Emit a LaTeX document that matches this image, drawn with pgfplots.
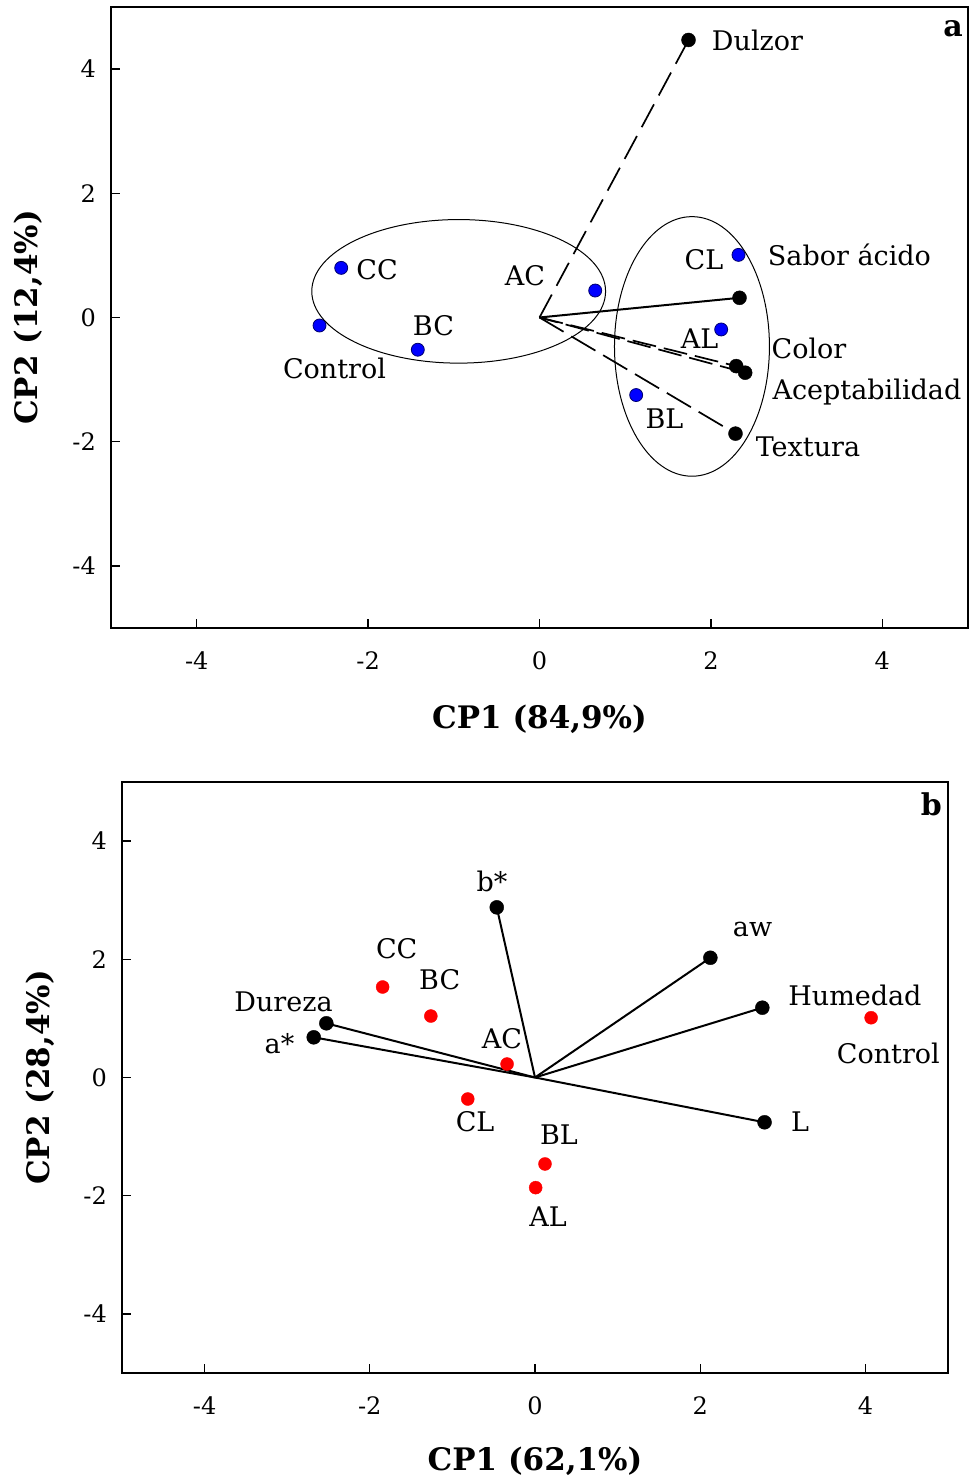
\documentclass[border=0pt]{standalone}
\usepackage{pgfplots}
\pgfplotsset{compat=1.18}
\usepackage{fontspec}
\setmainfont{DejaVu Serif}

\definecolor{ptblue}{RGB}{0,0,255}
\definecolor{ptedge}{RGB}{0,0,110}
\definecolor{ptred}{RGB}{255,0,0}

\tikzset{
  lbl/.style={font=\fontsize{27}{32}\selectfont, inner sep=0pt, text height=0.72em, text depth=0pt, anchor=center, yshift=-6pt},
}
\pgfplotsset{
  biplot/.style={
    scale only axis,
    xmin=-5,xmax=5,ymin=-5,ymax=5,
    xtick={-4,-2,0,2,4}, ytick={-4,-2,0,2,4},
    tick align=inside, xtick pos=left, ytick pos=left,
    major tick length=9pt,
    axis line style={line width=1.6pt},
    every tick/.style={black, line width=1.3pt},
    tick label style={font=\fontsize{24}{28}\selectfont},
    /pgf/number format/assume math mode=true,
    yticklabel style={inner sep=0pt, anchor=east, xshift=-15pt},
    xticklabel style={inner sep=0pt, anchor=center, yshift=-33pt},
    clip=false,
    label style={font=\fontsize{31}{36}\selectfont\bfseries},
  },
  vec/.style={black, line width=2pt, forget plot},
  dvec/.style={black, line width=1.7pt, forget plot},
}

\begin{document}
\begin{tikzpicture}
\useasboundingbox (0,0) rectangle (969pt,1481pt);

% ---------------- Panel a ----------------
\begin{axis}[biplot,
  at={(111pt,853pt)}, anchor=south west,
  width=857pt, height=621pt,
  xlabel={CP1 (84,9\%)},
  xlabel style={at={(axis description cs:0.5,-0.1465)}, anchor=center},
  ylabel={CP2 (12,4\%)},
  ylabel style={at={(axis description cs:-0.0968,0.5)}, anchor=center},
]
% vectors
\addplot[dvec, dash pattern=on 26pt off 10pt] coordinates {(0,0) (1.739,4.469)};
\addplot[vec] coordinates {(0,0) (2.334,0.317)};
\addplot[dvec, dash pattern=on 24pt off 8pt] coordinates {(0,0) (2.295,-0.783)};
\addplot[dvec, dash pattern=on 24pt off 8pt, dash phase=5pt] coordinates {(0,0) (2.400,-0.889)};
\addplot[dvec, dash pattern=on 28pt off 9pt] coordinates {(0,0) (2.287,-1.870)};
% variable points
\addplot[only marks, mark=*, mark size=7pt, black] coordinates {
  (1.739,4.469) (2.334,0.317) (2.295,-0.783) (2.400,-0.889) (2.287,-1.870)};
% sample points
\addplot[only marks, mark=*, mark size=6.5pt, mark options={fill=ptblue, draw=ptedge, line width=0.8pt}] coordinates {
  (-2.314,0.799) (-2.567,-0.129) (-1.420,-0.519) (0.650,0.434)
  (2.322,1.008) (2.120,-0.193) (1.128,-1.249)};
% ellipses
\draw[line width=1pt] (axis cs:-0.943,0.421) ellipse [x radius=1.714, y radius=1.156];
\draw[line width=1pt] (axis cs:1.779,-0.466) ellipse [x radius=0.904, y radius=2.090];
% labels
\node[lbl] at (axis cs:2.544,4.453) {Dulzor};
\node[lbl] at (axis cs:-1.896,0.772) {CC};
\node[lbl] at (axis cs:-0.169,0.675) {AC};
\node[lbl] at (axis cs:-1.237,-0.129) {BC};
\node[lbl] at (axis cs:-2.392,-0.820) {Control};
\node[lbl] at (axis cs:1.919,0.932) {CL};
\node[lbl] at (axis cs:3.617,0.990) {Sabor ácido};
\node[lbl] at (axis cs:1.867,-0.338) {AL};
\node[lbl] at (axis cs:3.145,-0.498) {Color};
\node[lbl] at (axis cs:3.821,-1.174) {Aceptabilidad};
\node[lbl] at (axis cs:1.459,-1.640) {BL};
\node[lbl] at (axis cs:3.133,-2.090) {Textura};
\node[font=\fontsize{30}{36}\selectfont\bfseries, inner sep=0pt] at (axis cs:4.825,4.646) {a};
\end{axis}

% ---------------- Panel b ----------------
\begin{axis}[biplot,
  at={(122pt,108pt)}, anchor=south west,
  width=826pt, height=591pt,
  xlabel={CP1 (62,1\%)},
  xlabel style={at={(axis description cs:0.5,-0.1489)}, anchor=center},
  ylabel={CP2 (28,4\%)},
  ylabel style={at={(axis description cs:-0.0993,0.5)}, anchor=center},
]
% vectors
\addplot[vec] coordinates {(0,0) (-0.463,2.879)};
\addplot[vec] coordinates {(0,0) (2.123,2.026)};
\addplot[vec] coordinates {(0,0) (2.752,1.181)};
\addplot[vec] coordinates {(0,0) (2.779,-0.758)};
\addplot[vec] coordinates {(0,0) (-2.526,0.917)};
\addplot[vec] coordinates {(0,0) (-2.679,0.680)};
% variable points
\addplot[only marks, mark=*, mark size=7pt, black] coordinates {
  (-0.463,2.879) (2.123,2.026) (2.752,1.181) (2.779,-0.758) (-2.526,0.917) (-2.679,0.680)};
% sample points
\addplot[only marks, mark=*, mark size=6.5pt, mark options={fill=ptred, draw=ptred}] coordinates {
  (-1.845,1.531) (-1.261,1.040) (-0.338,0.228) (-0.814,-0.364)
  (0.121,-1.463) (0.008,-1.864) (4.069,1.011)};
% labels
\node[lbl] at (axis cs:-0.520,3.307) {b*};
\node[lbl] at (axis cs:-1.674,2.173) {CC};
\node[lbl] at (axis cs:-1.154,1.649) {BC};
\node[lbl] at (axis cs:-3.045,1.277) {Dureza};
\node[lbl] at (axis cs:-3.093,0.567) {a*};
\node[lbl] at (axis cs:-0.399,0.651) {AC};
\node[lbl] at (axis cs:-0.725,-0.753) {CL};
\node[lbl] at (axis cs:0.290,-0.972) {BL};
\node[lbl] at (axis cs:0.157,-2.359) {AL};
\node[lbl] at (axis cs:2.634,2.545) {aw};
\node[lbl] at (axis cs:3.873,1.378) {Humedad};
\node[lbl] at (axis cs:4.278,0.397) {Control};
\node[lbl] at (axis cs:3.208,-0.753) {L};
\node[font=\fontsize{30}{36}\selectfont\bfseries, inner sep=0pt] at (axis cs:4.798,4.626) {b};
\end{axis}
\end{tikzpicture}
\end{document}
